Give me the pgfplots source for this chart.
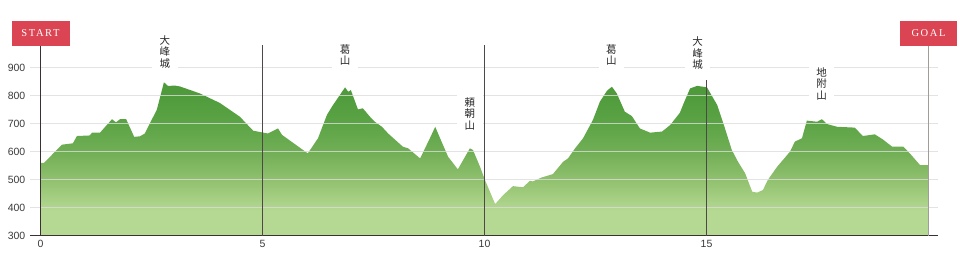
\documentclass[border=0pt]{standalone}
\usepackage{pgfplots}
\pgfplotsset{compat=1.18}
\usepackage{fontspec}
\setmainfont{Liberation Sans}
\newfontfamily\jpfont{Noto Sans CJK JP}
\newfontfamily\badgefont[LetterSpace=15]{Liberation Serif}

\definecolor{badge}{HTML}{DA4453}
\definecolor{ticktext}{HTML}{3A3A3A}
\definecolor{gridc}{HTML}{DCDCDC}
\definecolor{axisc}{HTML}{3A3232}
\definecolor{kmline}{HTML}{4E4848}
\definecolor{goalpole}{HTML}{A09C9C}

% vertical gradient of the elevation area (path spans 300 m .. 848 m,
% mapped onto 25bp .. 75bp of the shading)
\pgfdeclareverticalshading{elevgrad}{100bp}{%
  rgb(0bp)=(0.710,0.851,0.573);
  rgb(33bp)=(0.710,0.851,0.573);
  rgb(43bp)=(0.569,0.757,0.435);
  rgb(52bp)=(0.447,0.686,0.337);
  rgb(61.5bp)=(0.361,0.643,0.275);
  rgb(71bp)=(0.310,0.608,0.235);
  rgb(100bp)=(0.310,0.608,0.235)}

\begin{document}
\begin{tikzpicture}
\useasboundingbox (0,0) rectangle (960pt,270pt);
\begin{axis}[
  at={(30pt,34.3pt)}, anchor=south west,
  scale only axis, width=908pt, height=196pt,
  xmin=-0.2365, xmax=20.214, ymin=300, ymax=1000,
  clip=false,
  axis line style={draw=none},
  major tick length=0pt,
  xtick={0,5,10,15},
  ytick={300,400,500,600,700,800,900},
  /pgf/number format/assume math mode=true,
  ticklabel style={font=\fontsize{10.5}{12}\selectfont, text=ticktext},
  yticklabel style={anchor=east, inner sep=0pt, xshift=-4.5pt},
  xticklabel style={anchor=north, inner sep=0pt, yshift=-4.5pt},
]
% elevation profile, km vs. metres
\addplot[draw=none, shading=elevgrad] coordinates {
  (0,300) (0,560) (0.08,560) (0.48,625) (0.73,630) (0.82,656) (1.11,658)
  (1.16,668) (1.34,668) (1.61,716) (1.70,705) (1.79,716) (1.93,716)
  (2.11,653) (2.24,655) (2.35,665) (2.46,700) (2.62,750) (2.78,848)
  (2.87,835) (3.03,836) (3.14,833) (3.43,817) (3.59,808) (4.04,774)
  (4.49,725) (4.79,675) (4.99,669) (5.12,665) (5.35,683) (5.44,660)
  (6.02,594) (6.25,648) (6.45,731) (6.56,760) (6.86,830) (6.93,814)
  (6.99,820) (7.15,751) (7.26,755) (7.42,725) (7.53,707) (7.69,689)
  (7.83,665) (8.16,618) (8.28,612) (8.55,576) (8.77,648) (8.89,689)
  (9.00,648) (9.18,582) (9.40,537) (9.67,612) (9.74,606) (9.90,546)
  (10.01,499) (10.24,413) (10.42,445) (10.64,477) (10.87,473) (11.02,496)
  (11.09,494) (11.29,508) (11.54,520) (11.77,564) (11.88,576) (12.04,612)
  (12.22,648) (12.44,713) (12.60,779) (12.76,818) (12.87,832) (12.98,808)
  (13.16,743) (13.32,727) (13.50,683) (13.73,668) (14.00,672) (14.18,695)
  (14.40,739) (14.47,767) (14.63,826) (14.79,835) (15.01,830) (15.24,767)
  (15.38,701) (15.57,606) (15.71,564) (15.87,523) (16.03,457) (16.14,454)
  (16.27,463) (16.38,499) (16.59,546) (16.88,600) (16.99,636) (17.15,648)
  (17.26,711) (17.49,707) (17.60,716) (17.71,699) (17.94,689) (18.34,686)
  (18.52,656) (18.79,662) (18.97,644) (19.18,618) (19.43,618) (19.58,594)
  (19.81,552) (20,552) (20,300)
};

% horizontal grid over the area
\draw[gridc, line width=1pt, opacity=0.8] (axis cs:-0.2365,400) -- (axis cs:20.214,400);
\draw[gridc, line width=1pt, opacity=0.8] (axis cs:-0.2365,500) -- (axis cs:20.214,500);
\draw[gridc, line width=1pt, opacity=0.8] (axis cs:-0.2365,600) -- (axis cs:20.214,600);
\draw[gridc, line width=1pt, opacity=0.8] (axis cs:-0.2365,700) -- (axis cs:20.214,700);
\draw[gridc, line width=1pt, opacity=0.8] (axis cs:-0.2365,800) -- (axis cs:20.214,800);
\draw[gridc, line width=1pt, opacity=0.8] (axis cs:-0.2365,900) -- (axis cs:20.214,900);
% base line
\draw[axisc, line width=1.3pt] (axis cs:-0.2365,300) -- (axis cs:20.214,300);

% km markers
\draw[kmline, line width=0.9pt] (axis cs:5,300) -- (axis cs:5,981);
\draw[kmline, line width=0.9pt] (axis cs:10,300) -- (axis cs:10,981);
\draw[kmline, line width=0.9pt] (axis cs:15,300) -- (axis cs:15,856);

% start and goal poles
\draw[axisc, line width=1.2pt] (axis cs:0,300) -- (axis cs:0,1022);
\draw[goalpole, line width=1.8pt] (axis cs:20,300) -- (axis cs:20,1022);
\node[fill=badge, text=white, minimum width=58pt, minimum height=25pt, inner sep=0pt,
  font=\badgefont\fontsize{10.5}{12}\selectfont] at (axis cs:0,1022) {START};
\node[fill=badge, text=white, minimum width=57pt, minimum height=25pt, inner sep=0pt,
  font=\badgefont\fontsize{10.5}{12}\selectfont] at (axis cs:20,1022) {GOAL};

% summit names
\node[fill=white, align=center, inner xsep=7.5pt, inner ysep=8pt, text=black!85,
  font=\jpfont\fontsize{10.5}{11.5}\selectfont] at (axis cs:2.80,957) {大\\峰\\城};
\node[fill=white, align=center, inner xsep=7.5pt, inner ysep=8pt, text=black!85,
  font=\jpfont\fontsize{10.5}{11.5}\selectfont] at (axis cs:6.86,945) {葛\\山};
\node[fill=white, align=center, inner xsep=7.5pt, inner ysep=8pt, text=black!85,
  font=\jpfont\fontsize{10.5}{11.5}\selectfont] at (axis cs:9.67,736) {頼\\朝\\山};
\node[fill=white, align=center, inner xsep=7.5pt, inner ysep=8pt, text=black!85,
  font=\jpfont\fontsize{10.5}{11.5}\selectfont] at (axis cs:12.86,945) {葛\\山};
\node[fill=white, align=center, inner xsep=7.5pt, inner ysep=8pt, text=black!85,
  font=\jpfont\fontsize{10.5}{11.5}\selectfont] at (axis cs:14.80,952) {大\\峰\\城};
\node[fill=white, align=center, inner xsep=7.5pt, inner ysep=8pt, text=black!85,
  font=\jpfont\fontsize{10.5}{11.5}\selectfont] at (axis cs:17.59,842) {地\\附\\山};
\end{axis}
\end{tikzpicture}
\end{document}
